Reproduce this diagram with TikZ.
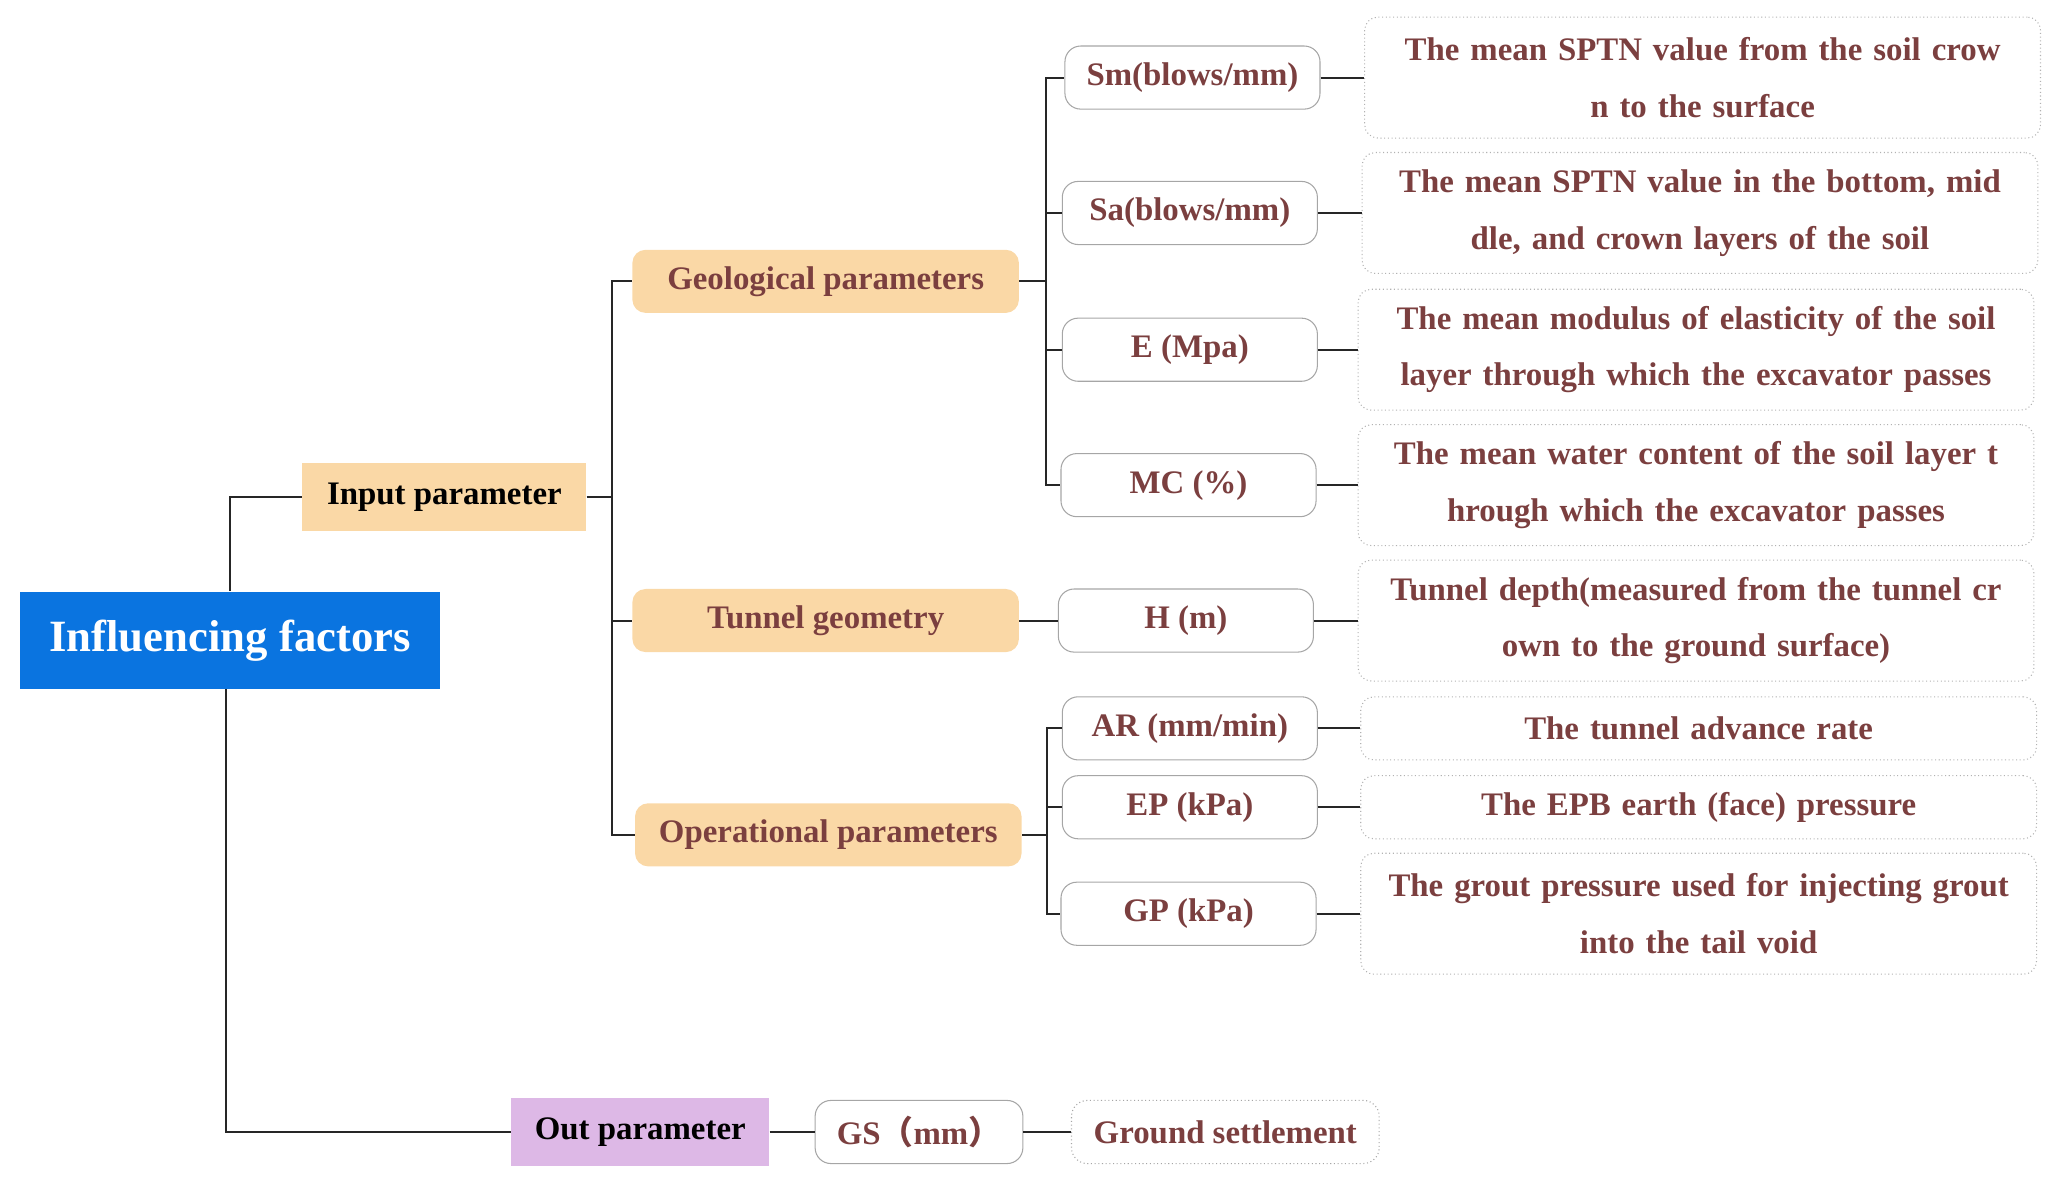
\documentclass[tikz,border=0pt]{standalone}
\usepackage{fontspec}
\setmainfont{Liberation Serif}
\newfontfamily\cjk{Noto Sans CJK SC}
\usetikzlibrary{positioning}
\definecolor{brn}{HTML}{7B3F3F}
\definecolor{rootblue}{HTML}{0A74E0}
\definecolor{orng}{HTML}{FAD8A6}
\definecolor{lav}{HTML}{DDB8E6}
\begin{document}
\begin{tikzpicture}[x=0.5pt,y=-0.5pt,
  lvl/.style={fill=orng,font=\bfseries\fontsize{12.5}{15}\selectfont,minimum height=26pt},
  grp/.style={fill=orng,rounded corners=5pt,text=brn,font=\bfseries\fontsize{12.5}{15}\selectfont,minimum width=147pt,minimum height=24pt},
  par/.style={draw=gray!70,rounded corners=6pt,text=brn,font=\bfseries\fontsize{12.5}{15}\selectfont,minimum width=97pt,minimum height=24pt},
  dsc/.style={draw=gray!60,densely dotted,rounded corners=5pt,text=brn,font=\bfseries\fontsize{12.5}{21.5}\selectfont,align=center,minimum width=257pt,text width=250pt,minimum height=46pt},
  cn/.style={draw=black!85,line width=0.8pt}]
  \useasboundingbox (0,0) rectangle (1560,897);

  % main branches
  \node[fill=rootblue,text=white,font=\bfseries\fontsize{17}{20}\selectfont,minimum width=160pt,minimum height=37pt] (root) at (175,487) {Influencing factors};
  \node[lvl,minimum width=108pt] (input) at (338,378) {Input parameter};
  \node[lvl,fill=lav,minimum width=98pt] (output) at (487,861) {Out parameter};

  \node[grp] (geo) at (628,214) {Geological parameters};
  \node[grp] (tun) at (628,472) {Tunnel geometry};
  \node[grp] (ope) at (630,635) {Operational parameters};

  % parameters
  \node[par] (sm) at (907,59) {Sm(blows/mm)};
  \node[par] (sa) at (905,162) {Sa(blows/mm)};
  \node[par] (em) at (905,266) {E (Mpa)};
  \node[par] (mc) at (904,369) {MC (\%)};
  \node[par] (hm) at (902,472) {H (m)};
  \node[par] (ar) at (905,554) {AR (mm/min)};
  \node[par] (ep) at (905,614) {EP (kPa)};
  \node[par] (gp) at (904,695) {GP (kPa)};
  \node[par,minimum width=79pt] (gs) at (699,861) {GS{\cjk（}mm{\cjk）}};

  % descriptions
  \node[dsc] (dsm) at (1295,59) {The mean SPTN value from the soil crow\\n to the surface};
  \node[dsc] (dsa) at (1293,162) {The mean SPTN value in the bottom, mid\\dle, and crown layers of the soil};
  \node[dsc] (dem) at (1290,266) {The mean modulus of elasticity of the soil\\layer through which the excavator passes};
  \node[dsc] (dmc) at (1290,369) {The mean water content of the soil layer t\\hrough which the excavator passes};
  \node[dsc] (dhm) at (1290,472) {Tunnel depth(measured from the tunnel cr\\own to the ground surface)};
  \node[dsc,minimum height=24pt] (dar) at (1292,554) {The tunnel advance rate};
  \node[dsc,minimum height=24pt] (dep) at (1292,614) {The EPB earth (face) pressure};
  \node[dsc] (dgp) at (1292,695) {The grout pressure used for injecting grout\\into the tail void};
  \node[par,densely dotted,minimum width=117pt] (dgs) at (932,861) {Ground settlement};

  % connectors
  \draw[cn] (root.north -| 175,0) |- (input.west);
  \draw[cn] (root.south -| 172,0) |- (output.west);
  \foreach \g in {geo,tun,ope}
    \draw[cn] (input.east) -- ++(19,0) |- (\g.west);
  \foreach \p in {sm,sa,em,mc}
    \draw[cn] (geo.east) -- ++(20,0) |- (\p.west);
  \foreach \p in {ar,ep,gp}
    \draw[cn] (ope.east) -- ++(19,0) |- (\p.west);
  \draw[cn] (tun) -- (hm);
  \draw[cn] (output) -- (gs);
  \draw[cn] (gs) -- (dgs);
  \foreach \p/\d in {sm/dsm,sa/dsa,em/dem,mc/dmc,hm/dhm,ar/dar,ep/dep,gp/dgp}
    \draw[cn] (\p) -- (\d);
\end{tikzpicture}
\end{document}
